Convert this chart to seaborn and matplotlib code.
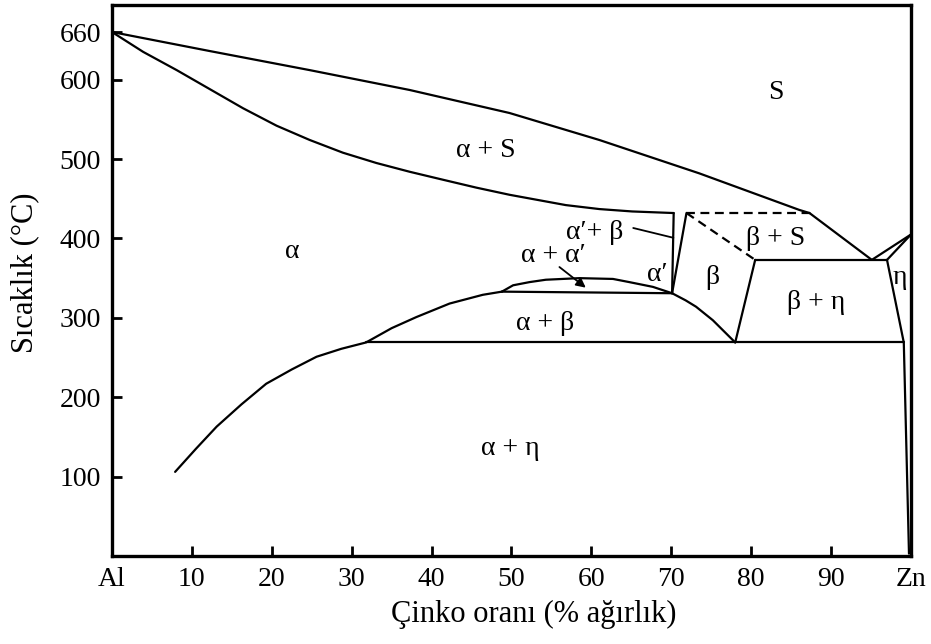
import matplotlib
matplotlib.use("Agg")
import matplotlib.pyplot as plt
import seaborn as sns
import pandas as pd

# ---- Data (wt% Zn, temperature in °C) ----
liquidus_al_x = [0, 12.25, 24.75, 37.25, 49.75, 61, 73.5, 86, 87.3]
liquidus_al_t = [660, 636, 612, 587, 558, 524, 482, 436, 432]

liquidus_beta_x = [87.3, 95.1]
liquidus_beta_t = [432, 373]

liquidus_zn_x = [95.1, 100]
liquidus_zn_t = [373, 405]

solidus_x = [0, 3.9, 8.1, 12.25, 16.4, 20.6, 24.75, 28.9, 33.1, 37.25, 41.4,
             45.6, 49.75, 56.8, 61, 65.1, 70.3]
solidus_t = [660, 635, 612, 588, 564, 542, 524, 508, 495, 484, 474,
             464, 455, 442, 437, 434, 432]

alpha_prime_x = [70.3, 70.1]
alpha_prime_t = [432, 331]

beta_left_x = [71.9, 70.1]
beta_left_t = [432, 331]

peritectic_dash_x = [71.9, 87.3]
peritectic_dash_t = [432, 432]

beta_s_dash_x = [71.9, 80.5]
beta_s_dash_t = [432, 373]

beta_right_x = [80.5, 78.0]
beta_right_t = [373, 269]

eutectic_x = [80.5, 97.0]
eutectic_t = [373, 373]

eta_solidus_x = [97.0, 100]
eta_solidus_t = [373, 405]

eta_solvus_x = [97.0, 99.1, 99.75]
eta_solvus_t = [373, 269, 3]

eutectoid_x = [31.8, 99.1]
eutectoid_t = [269, 269]

beta_solvus_x = [70.1, 71.8, 73.1, 75.2, 76.8, 78.0]
beta_solvus_t = [331, 322, 314, 297, 281, 269]

monotectoid_x = [48.8, 70.1]
monotectoid_t = [333, 331]

dome_x = [48.8, 50.2, 52.25, 54.3, 58.5, 62.7, 64.75, 67.7, 70.1]
dome_t = [333, 341, 345, 348, 350, 349, 345, 339, 331]

alpha_solvus_x = [7.9, 10.5, 13.1, 16.2, 19.3, 22.5, 25.6, 28.7, 31.8,
                  35.0, 38.1, 42.25, 46.4, 48.8]
alpha_solvus_t = [106, 135, 163, 191, 217, 235, 251, 261, 269,
                  287, 301, 318, 329, 333]

x_ticks = [0, 10, 20, 30, 40, 50, 60, 70, 80, 90, 100]
x_tick_labels = ["Al", "10", "20", "30", "40", "50", "60", "70", "80", "90", "Zn"]
y_ticks = [100, 200, 300, 400, 500, 600, 660]
y_tick_labels = ["100", "200", "300", "400", "500", "600", "660"]

phase_labels = ["S", "α + S", "α", "α\u2032+ β", "α + α\u2032", "α\u2032", "β",
                "β + S", "β + η", "η", "α + β", "α + η"]
phase_x = [83.1, 46.75, 22.6, 60.4, 55.25, 68.3, 75.1, 83.1, 88.1, 98.6, 54.25, 49.9]
phase_t = [584, 511, 383, 408, 379, 354, 351, 400, 319, 351, 293, 136]

# ---- Style ----
sns.set_theme(style="white")
serif = ["Liberation Serif", "DejaVu Serif"]
plt.rcParams["font.family"] = serif

fig = plt.figure(figsize=(9.31, 6.44), dpi=100)
ax = fig.add_axes([0.1203, 0.1366, 0.8582, 0.8556])

solid_sets = [
    (liquidus_al_x, liquidus_al_t),
    (liquidus_beta_x, liquidus_beta_t),
    (liquidus_zn_x, liquidus_zn_t),
    (solidus_x, solidus_t),
    (alpha_prime_x, alpha_prime_t),
    (beta_left_x, beta_left_t),
    (beta_right_x, beta_right_t),
    (eutectic_x, eutectic_t),
    (eta_solidus_x, eta_solidus_t),
    (eta_solvus_x, eta_solvus_t),
    (eutectoid_x, eutectoid_t),
    (beta_solvus_x, beta_solvus_t),
    (monotectoid_x, monotectoid_t),
    (dome_x, dome_t),
    (alpha_solvus_x, alpha_solvus_t),
]
dashed_sets = [
    (peritectic_dash_x, peritectic_dash_t),
    (beta_s_dash_x, beta_s_dash_t),
]

LW = 1.6
for xs, ts in solid_sets:
    df = pd.DataFrame({"x": xs, "t": ts})
    sns.lineplot(data=df, x="x", y="t", ax=ax, color="black", lw=LW,
                 estimator=None, sort=False, legend=False)
for xs, ts in dashed_sets:
    df = pd.DataFrame({"x": xs, "t": ts})
    sns.lineplot(data=df, x="x", y="t", ax=ax, color="black", lw=LW,
                 estimator=None, sort=False, legend=False,
                 linestyle=(0, (4, 2.5)))

# phase labels
for lab, px, pt in zip(phase_labels, phase_x, phase_t):
    ax.text(px, pt, lab, ha="center", va="center", fontsize=20,
            family=serif, color="black")

# leader line for α'+β
ax.annotate("", xy=(70.6, 400), xytext=(64.9, 414),
            arrowprops=dict(arrowstyle="-", color="black", lw=1.3))
# arrow for α+α'
ax.annotate("", xy=(59.3, 338), xytext=(56.0, 364),
            arrowprops=dict(arrowstyle="-|>", color="black", lw=1.3,
                            mutation_scale=14, shrinkA=0, shrinkB=0))

ax.set_xlim(0, 100)
ax.set_ylim(0, 694)
ax.set_xticks(x_ticks)
ax.set_xticklabels(x_tick_labels)
ax.set_yticks(y_ticks)
ax.set_yticklabels(y_tick_labels)
ax.tick_params(axis="both", direction="in", length=7, width=2,
               labelsize=20, pad=8, colors="black")
ax.tick_params(top=False, right=False, bottom=True, left=True)

for sp in ax.spines.values():
    sp.set_visible(True)
    sp.set_color("black")
    sp.set_linewidth(2.4)

ax.set_xlabel("Çinko oranı (% ağırlık)", fontsize=22, color="black")
ax.set_ylabel("Sıcaklık (°C)", fontsize=22, color="black")
ax.xaxis.set_label_coords(0.528, -0.08)
ax.yaxis.set_label_coords(-0.091, 0.515)

fig.savefig("out.png", dpi=100)
